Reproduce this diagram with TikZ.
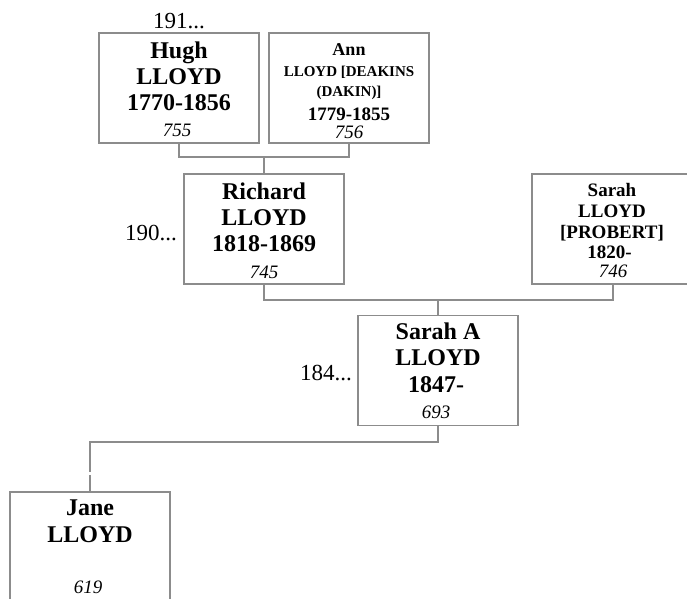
\documentclass[tikz,border=0pt]{standalone}
\usepackage{fontspec}
\setmainfont{Liberation Serif}
\definecolor{linegray}{HTML}{8C8C8C}
\begin{document}
\begin{tikzpicture}[x=1pt,y=-1pt,
  person/.style={draw=linegray,line width=1.2pt,rectangle,inner sep=0pt,minimum width=160pt,minimum height=110pt},
  conn/.style={draw=linegray,line width=1.2pt},
  big/.style={anchor=base,inner sep=0pt,font=\fontsize{24}{28}\selectfont\bfseries},
  mid/.style={anchor=base,inner sep=0pt,font=\fontsize{19}{22}\selectfont\bfseries},
  small/.style={anchor=base,inner sep=0pt,font=\fontsize{15}{18}\selectfont\bfseries},
  num/.style={anchor=base,inner sep=0pt,font=\fontsize{19}{22}\selectfont\itshape},
  gen/.style={anchor=base,inner sep=0pt,font=\fontsize{23}{26}\selectfont}]
\useasboundingbox (0,0) rectangle (687,598);
% boxes
\node[person] (hugh) at (179,88) {};
\node[person] (ann) at (349,88) {};
\node[person] (richard) at (264,229) {};
\node[person,minimum width=162pt] (sarahp) at (613,229) {};
\node[person] (sarahA) at (438,370.5) {};
\node[person] (jane) at (90,547) {};
% generation labels
\node[gen] (g1) at (179,28) {191...};
\node[gen,anchor=base east] (g2) at (177,240) {190...};
\node[gen,anchor=base east] (g3) at (352,380) {184...};
% Hugh
\node[big] (h1) at (179,58) {Hugh};
\node[big] (h2) at (179,84) {LLOYD};
\node[big] (h3) at (179,110) {1770-1856};
\node[num] (h4) at (177,136) {755};
% Ann
\node[mid,font=\fontsize{18}{21}\selectfont\bfseries] (a1) at (349,55) {Ann};
\node[small] (a2) at (349,76) {LLOYD [DEAKINS};
\node[small] (a3) at (349,96) {(DAKIN)]};
\node[mid] (a4) at (349,120) {1779-1855};
\node[num] (a5) at (349,138) {756};
% Richard
\node[big] (r1) at (264,199) {Richard};
\node[big] (r2) at (264,225) {LLOYD};
\node[big] (r3) at (264,251) {1818-1869};
\node[num] (r4) at (264,278) {745};
% Sarah (Probert)
\node[mid] (s1) at (612,196) {Sarah};
\node[mid] (s2) at (612,217) {LLOYD};
\node[mid] (s3) at (612,238) {[PROBERT]};
\node[mid] (s4) at (609.5,258) {1820-};
\node[num] (s5) at (613,277) {746};
% Sarah A
\node[big] (sa1) at (438,339) {Sarah A};
\node[big] (sa2) at (438,365) {LLOYD};
\node[big] (sa3) at (436,392) {1847-};
\node[num] (sa4) at (436,418) {693};
% Jane
\node[big] (j1) at (90,515) {Jane};
\node[big] (j2) at (90,542) {LLOYD};
\node[num] (j3) at (88,593) {619};
% connectors
\coordinate (m1) at (264,157);
\coordinate (m2) at (438,300);
\coordinate (m3) at (438,442);
\coordinate (gapA) at (90,472);
\coordinate (gapB) at (90,475);
\draw[conn] (hugh.south) |- (m1) -| (ann.south);
\draw[conn] (m1) -- (richard.north);
\draw[conn] (richard.south) |- (m2) -| (sarahp.south);
\draw[conn] (m2) -- (sarahA.north);
\draw[conn] (sarahA.south) -- (m3) -| (gapA);
\draw[conn] (gapB) -- (jane.north);
\end{tikzpicture}
\end{document}
